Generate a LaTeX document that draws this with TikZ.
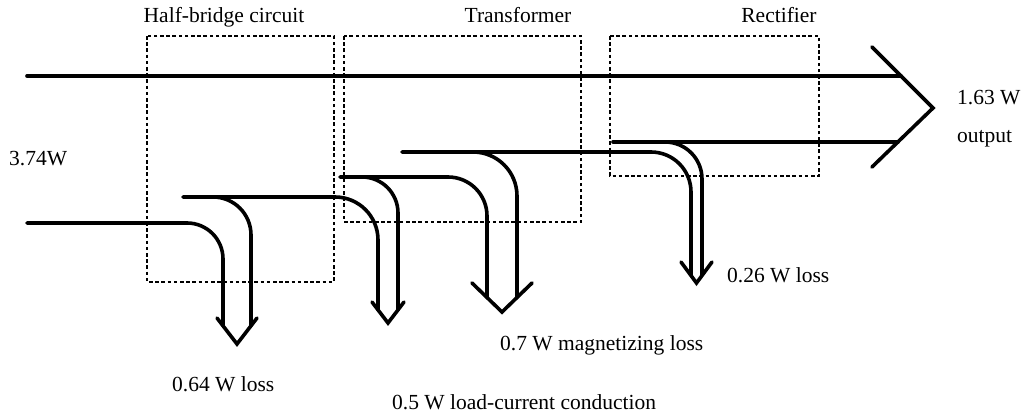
\documentclass[tikz,border=0pt]{standalone}
\usepackage{fontspec}
\setmainfont{Liberation Serif}
\begin{document}
\begin{tikzpicture}[x=1pt,y=-1pt,
  flow/.style={line width=3.6pt,line cap=round,line join=round},
  headline/.style={line width=3.6pt,line cap=round,line join=miter},
  stage/.style={line width=1.7pt,dash pattern=on 3.6pt off 2.6pt},
  lbl/.style={inner sep=0pt,font=\fontsize{21.5}{24}\selectfont}]
\useasboundingbox (0,0) rectangle (1023,417);

% stage boxes
\draw[stage] (147,36) rectangle (334,282);
\draw[stage] (344,36) rectangle (581,222);
\draw[stage] (610,36) rectangle (819,176);

% stage titles
\node[lbl,anchor=base] (thb) at (224,23) {Half-bridge circuit};
\node[lbl,anchor=base] (ttr) at (518,23) {Transformer};
\node[lbl,anchor=base] (tre) at (779,23) {Rectifier};

% band edge coordinates
\coordinate (in0) at (27,76);
\coordinate (in1) at (27,223);
\coordinate (o0) at (901,76);
\coordinate (o1a) at (613,142);
\coordinate (o1b) at (898,142);

% main power band and output arrowhead
\draw[flow] (in0) -- (o0);
\draw[flow] (o1a) -- (o1b);
\coordinate (ow1) at (872,47);
\coordinate (otip) at (933,108);
\coordinate (ow2) at (872,167);
\draw[headline] (ow1) -- (otip) -- (ow2);

% loss 1: half-bridge
\coordinate (a1l) at (223,326);
\coordinate (a1r) at (251,326);
\draw[flow,rounded corners=36pt] (in1) -- (223,223) -- (a1l);
\draw[flow,rounded corners=38pt] (213,197) -- (251,197) -- (a1r);
\coordinate (h1a) at (217,318);
\coordinate (h1t) at (237,344);
\coordinate (h1b) at (257,318);
\draw[headline] (h1a) -- (h1t) -- (h1b);

% loss 2: load-current conduction
\coordinate (a2l) at (378,310);
\coordinate (a2r) at (398,310);
\draw[flow,rounded corners=43pt] (183,197) -- (378,197) -- (a2l);
\draw[flow,rounded corners=36pt] (362,177) -- (398,177) -- (a2r);
\coordinate (h2a) at (372,302);
\coordinate (h2t) at (388,323);
\coordinate (h2b) at (404,302);
\draw[headline] (h2a) -- (h2t) -- (h2b);

% loss 3: magnetizing
\coordinate (a3l) at (487,297.5);
\coordinate (a3r) at (517,297.5);
\draw[flow,rounded corners=39pt] (340,177) -- (487,177) -- (a3l);
\draw[flow,rounded corners=44pt] (473,152) -- (517,152) -- (a3r);
\coordinate (h3a) at (472,283);
\coordinate (h3t) at (502,312);
\coordinate (h3b) at (532,283);
\draw[headline] (h3a) -- (h3t) -- (h3b);

% loss 4: rectifier
\coordinate (a4l) at (691,275.5);
\coordinate (a4r) at (702,275.5);
\draw[flow,rounded corners=40pt] (402,152) -- (691,152) -- (a4l);
\draw[flow,rounded corners=37pt] (665,142) -- (702,142) -- (a4r);
\coordinate (h4a) at (681,262);
\coordinate (h4t) at (696.5,283);
\coordinate (h4b) at (712,262);
\draw[headline] (h4a) -- (h4t) -- (h4b);

% power labels
\node[lbl,anchor=base west] (pin) at (9,165) {3.74W};
\node[lbl,anchor=base west] (pout) at (957,105) {1.63 W};
\node[lbl,anchor=base west] (pout2) at (957,143) {output};
\node[lbl,anchor=base west] (l4) at (727,282) {0.26 W loss};
\node[lbl,anchor=base west] (l3) at (500,350) {0.7 W magnetizing loss};
\node[lbl,anchor=base west] (l1) at (172,391) {0.64 W loss};
\node[lbl,anchor=base west] (l2) at (392,409) {0.5 W load-current conduction};
\end{tikzpicture}
\end{document}
